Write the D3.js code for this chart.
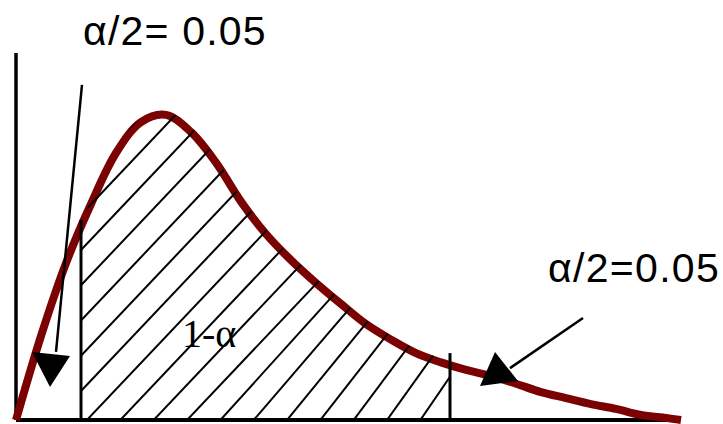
<!DOCTYPE html>
<html>
<head>
<meta charset="utf-8">
<script src="https://cdn.jsdelivr.net/npm/d3@7"></script>
<style>
  html, body { margin: 0; padding: 0; background: #fff; }
  svg { display: block; }
</style>
</head>
<body>
<svg id="chart" width="723" height="424"></svg>
<script>
// ---- data ----
const xValues = [0, 1, 2, 3, 4, 5, 6, 7, 8, 9, 10, 11, 12, 13, 14, 15, 16, 17, 18, 19, 20, 21, 22, 23, 24, 25, 26, 26.6];
const densityValues = [0, 0.028, 0.0523, 0.072, 0.089, 0.0993, 0.1017, 0.096, 0.0858, 0.0728, 0.062, 0.0533, 0.0457, 0.0387, 0.032, 0.0268, 0.0223, 0.0192, 0.0167, 0.0147, 0.0121, 0.0093, 0.0073, 0.0053, 0.0037, 0.0017, 0.0007, 0];
const criticalValues = [2.6, 17.36];
const criticalTops = [0.0667, 0.0223];
const labelTexts = ["α/2= 0.05", "α/2=0.05", "1-α"];

const svg = d3.select("#chart");
const W = 723, H = 424;
svg.append("rect").attr("width", W).attr("height", H).attr("fill", "#fff");

const x = d3.scaleLinear().domain([0, 26.6]).range([16, 681]);
const y = d3.scaleLinear().domain([0, 0.1]).range([420, 120]);

const pts = xValues.map((v, i) => ({ x: v, d: densityValues[i] }));
const curve = d3.curveCatmullRom.alpha(0.5);

// axes
svg.append("line")
  .attr("x1", x(0)).attr("x2", x(0))
  .attr("y1", y(0)).attr("y2", y(0.1223))
  .attr("stroke", "#000").attr("stroke-width", 3.5);
svg.append("line")
  .attr("x1", x(0)).attr("x2", x(26))
  .attr("y1", y(0)).attr("y2", y(0))
  .attr("stroke", "#000").attr("stroke-width", 4);

// density curve
const line = d3.line().x(d => x(d.x)).y(d => y(d.d)).curve(curve);
svg.append("path")
  .datum(pts)
  .attr("d", line)
  .attr("fill", "none")
  .attr("stroke", "#7a0202")
  .attr("stroke-width", 8)
  .attr("stroke-linejoin", "round")
  .attr("stroke-linecap", "butt");

// hatch clip: area under the curve between critical values
const defs = svg.append("defs");
const area = d3.area().x(d => x(d.x)).y0(y(0)).y1(d => y(d.d) - 4).curve(curve);
defs.append("clipPath").attr("id", "under").append("path").datum(pts).attr("d", area);
defs.append("clipPath").attr("id", "band").append("rect")
  .attr("x", x(criticalValues[0])).attr("y", 0)
  .attr("width", x(criticalValues[1]) - x(criticalValues[0]))
  .attr("height", y(0));

const hatch = svg.append("g").attr("clip-path", "url(#band)")
  .append("g").attr("clip-path", "url(#under)");
const baseY = y(0);
for (let k = -12; k <= 11; k++) {
  const x0 = 85 + 33.4 * k;
  let s = 1.05;
  if (x0 > 190) s = 1.05 + (x0 - 190) / (419 - 190) * 0.4;
  const rise = 400;
  hatch.append("line")
    .attr("x1", x0).attr("y1", baseY + 2)
    .attr("x2", x0 + rise / s).attr("y2", baseY - rise)
    .attr("stroke", "#000").attr("stroke-width", 2);
}

// critical value lines
svg.selectAll(".crit").data(criticalValues).enter().append("line")
  .attr("x1", d => x(d)).attr("x2", d => x(d))
  .attr("y1", y(0)).attr("y2", (d, i) => y(criticalTops[i]))
  .attr("stroke", "#000").attr("stroke-width", 3);

// arrows (annotation positions in data units)
const arrowLines = [
  [[2.64, 0.1117], [1.6, 0.0227]],
  [[22.68, 0.034], [19.76, 0.0173]]
];
const arrowHeads = [
  [[0.64, 0.0227], [2.16, 0.0213], [1.36, 0.011]],
  [[19.16, 0.0227], [18.56, 0.0113], [20.08, 0.013]]
];
arrowLines.forEach(l => {
  svg.append("line")
    .attr("x1", x(l[0][0])).attr("y1", y(l[0][1]))
    .attr("x2", x(l[1][0])).attr("y2", y(l[1][1]))
    .attr("stroke", "#000").attr("stroke-width", 2.5);
});
arrowHeads.forEach(t => {
  svg.append("polygon")
    .attr("points", t.map(p => [x(p[0]), y(p[1])].join(",")).join(" "))
    .attr("fill", "#000");
});

// labels
svg.append("text")
  .attr("x", x(2.68)).attr("y", y(0.125))
  .attr("font-family", "'Liberation Sans', Arial, sans-serif")
  .attr("font-size", 41).attr("fill", "#000")
  .attr("letter-spacing", 1.2)
  .text(labelTexts[0]);
svg.append("text")
  .attr("x", x(21.28)).attr("y", y(0.046))
  .attr("font-family", "'Liberation Sans', Arial, sans-serif")
  .attr("font-size", 41).attr("fill", "#000")
  .attr("letter-spacing", 1.3)
  .text(labelTexts[1]);
svg.append("text")
  .attr("x", x(6.64)).attr("y", y(0.0243))
  .attr("font-family", "'Liberation Serif', 'Times New Roman', serif")
  .attr("font-size", 40).attr("fill", "#000")
  .text(labelTexts[2]);
</script>
</body>
</html>
